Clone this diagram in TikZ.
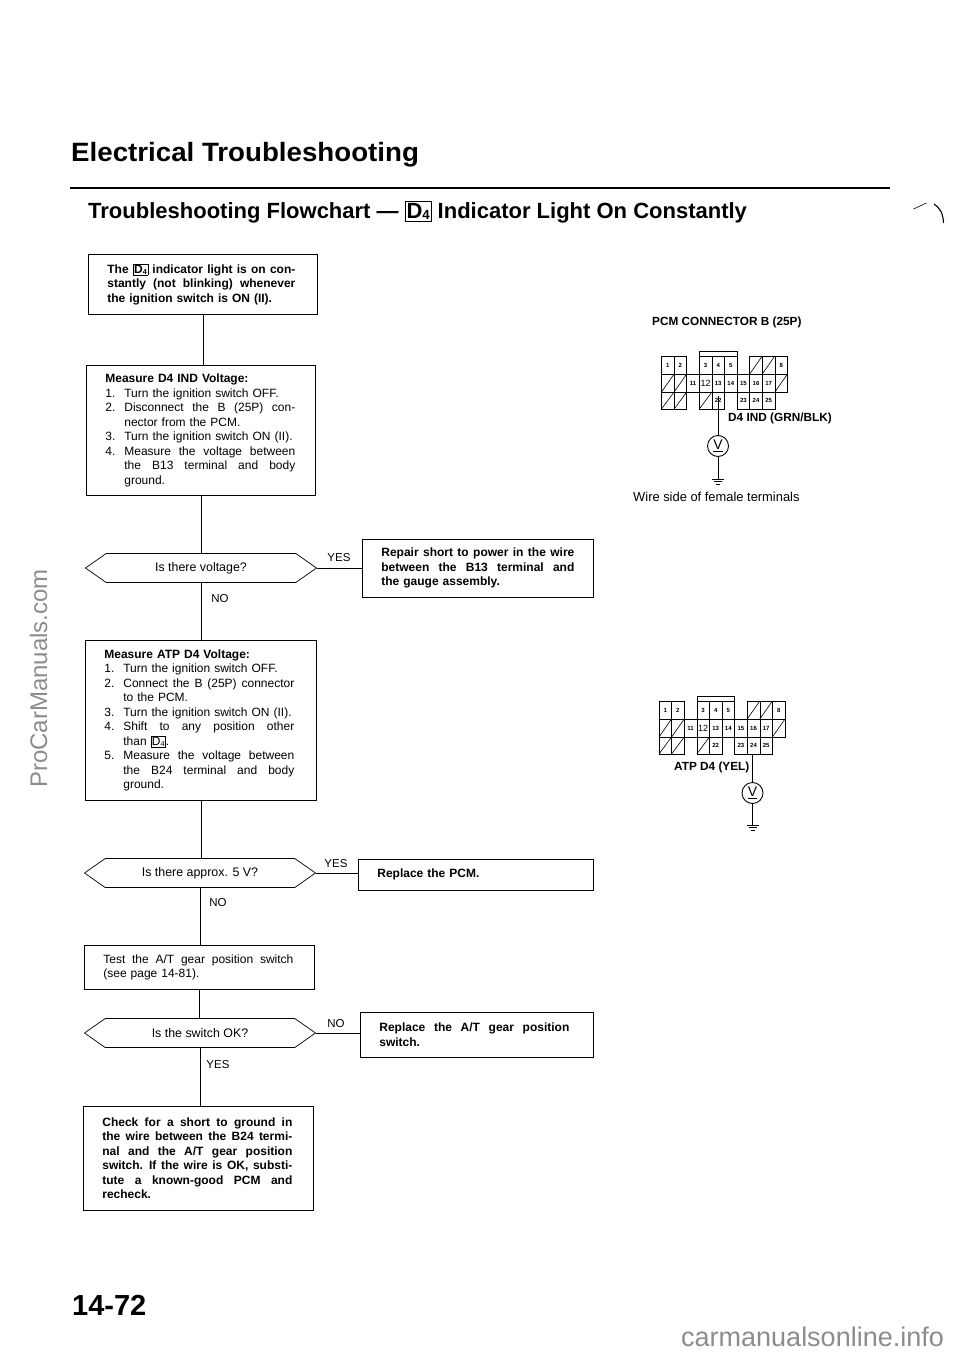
\documentclass[tikz,border=0pt]{standalone}
\usepackage{fontspec}
\setmainfont{Liberation Sans}
\usetikzlibrary{shapes.symbols,calc}
\newcommand{\dfour}{{\setlength{\fboxsep}{0.8pt}\setlength{\fboxrule}{0.5pt}\fbox{D\raisebox{-0.15ex}{\scalebox{0.6}{4}}}}}
\newcommand{\sprw}[2]{\makebox[#1][s]{\spaceskip=.278em plus 1em\relax #2}}
\newcommand{\spr}[1]{\sprw{190pt}{#1}}
\newcommand{\num}[1]{\makebox[19pt][l]{#1}}
\tikzset{
 x=1pt,y=-1pt,
 flow/.style={draw,line width=0.7pt,anchor=north west,align=left,inner xsep=19pt,inner ysep=0pt,font=\fontsize{12}{14.5}\selectfont},
 deci/.style={draw,line width=0.7pt,shape=signal,signal to=east and west,signal pointer angle=70,minimum width=231pt,minimum height=29pt,inner sep=0pt,font=\fontsize{12.4}{14}\selectfont},
 lbl/.style={font=\fontsize{11.5}{13}\selectfont,inner sep=0pt},
 wire/.style={line width=0.8pt},
 num/.style={inner sep=0pt,font=\fontsize{6}{6}\selectfont\bfseries},
 conlbl/.style={inner sep=0pt,anchor=west,font=\fontsize{11.8}{13}\selectfont\bfseries},
 vm/.style={draw,circle,line width=0.9pt,minimum size=21pt,inner sep=0pt,font=\fontsize{14}{14}\selectfont},
}
\newcommand{\connector}[2]{%
 \begin{scope}[shift={(#1,#2)},line width=0.6pt]
  \draw (38,0) -- (38,-5) -- (75.6,-5) -- (75.6,0);
  \foreach \c/\t in {0/1,1/2,3/3,4/4,5/5,9/8}{
   \draw (\c*12.6,0) rectangle +(12.6,18);
   \node[num] at (\c*12.6+6.3,9) {\t};}
  \foreach \c in {7,8}{
   \draw (\c*12.6,0) rectangle +(12.6,18);
   \draw (\c*12.6,18) -- +(12.6,-18);}
  \foreach \c/\t in {2/11,4/13,5/14,6/15,7/16,8/17}{
   \draw (\c*12.6,18) rectangle +(12.6,18);
   \node[num] at (\c*12.6+6.3,27) {\t};}
  \draw (3*12.6,18) rectangle +(12.6,18);
  \node[num,font=\fontsize{9}{9}\selectfont] at (3*12.6+6.3,27) {12};
  \foreach \c in {0,1,9}{
   \draw (\c*12.6,18) rectangle +(12.6,18);
   \draw (\c*12.6,36) -- +(12.6,-18);}
  \foreach \c in {0,1,3}{
   \draw (\c*12.6,36) rectangle +(12.6,17);
   \draw (\c*12.6,53) -- +(12.6,-17);}
  \foreach \c/\t in {4/22,6/23,7/24,8/25}{
   \draw (\c*12.6,36) rectangle +(12.6,17);
   \node[num] at (\c*12.6+6.3,44.5) {\t};}
 \end{scope}}
\newcommand{\gnd}[1]{%
 \draw[line width=0.7pt] ($(#1)+(-6,0)$) -- +(12,0);
 \draw[line width=0.7pt] ($(#1)+(-4,2.5)$) -- +(8,0);
 \draw[line width=0.7pt] ($(#1)+(-2,5)$) -- +(4,0);}
\begin{document}
\begin{tikzpicture}
\useasboundingbox (0,0) rectangle (960,1356);
% headings
\node[inner sep=0pt,anchor=west] (title) at (71,155) {\fontsize{26.5}{30}\selectfont\bfseries\scalebox{1.045}[1]{Electrical Troubleshooting}};
\coordinate (ruleA) at (70,188);
\coordinate (ruleB) at (890,188);
\draw[line width=1.8pt] (ruleA) -- (ruleB);
\node[inner sep=0pt,anchor=west] (sub) at (88,212) {\fontsize{22}{25}\selectfont\bfseries Troubleshooting Flowchart --- {\setlength{\fboxsep}{1.2pt}\setlength{\fboxrule}{0.6pt}\fbox{D\raisebox{-0.15ex}{\scalebox{0.6}{4}}}} Indicator Light On Constantly};
% flow
\node[flow,text width=191pt,minimum height=60pt] (b1) at (88,254) {\bfseries
 \sprw{188pt}{The \dfour{} indicator light is on con-}\\
 \sprw{188pt}{stantly (not blinking) whenever}\\
 the ignition switch is ON (II).};
\node[flow,text width=191pt,minimum height=130pt] (b2) at (86,365) {\textbf{Measure D4 IND Voltage:}\\
 \num{1.}Turn the ignition switch OFF.\\
 \spr{\num{2.}Disconnect the B (25P) con-}\\
 \num{}nector from the PCM.\\
 \num{3.}Turn the ignition switch ON (II).\\
 \spr{\num{4.}Measure the voltage between}\\
 \spr{\num{}the B13 terminal and body}\\
 \num{}ground.};
\node[deci] (d1) at (201,568) {Is there voltage?};
\node[flow,text width=193pt,minimum height=58pt] (b3) at (362,539) {\bfseries
 \sprw{193pt}{Repair short to power in the wire}\\
 \sprw{193pt}{between the B13 terminal and}\\
 the gauge assembly.};
\node[flow,text width=193pt,minimum height=160pt] (b4) at (85,640) {\textbf{Measure ATP D4 Voltage:}\\
 \num{1.}Turn the ignition switch OFF.\\
 \spr{\num{2.}Connect the B (25P) connector}\\
 \num{}to the PCM.\\
 \num{3.}Turn the ignition switch ON (II).\\
 \spr{\num{4.}Shift to any position other}\\
 \num{}than \dfour.\\
 \spr{\num{5.}Measure the voltage between}\\
 \spr{\num{}the B24 terminal and body}\\
 \num{}ground.};
\node[deci] (d2) at (200,873) {Is there approx. 5 V?};
\node[flow,text width=197pt,minimum height=31pt] (b5) at (358,859) {\textbf{Replace the PCM.}};
\node[flow,text width=192pt,minimum height=44pt] (b6) at (84,945) {\spr{Test the A/T gear position switch}\\ (see page 14-81).};
\node[deci] (d3) at (200,1033) {Is the switch OK?};
\node[flow,text width=195pt,minimum height=45pt] (b7) at (360,1012) {\bfseries
 \spr{Replace the A/T gear position}\\ switch.};
\node[flow,text width=192pt,minimum height=104pt] (b8) at (83,1106) {\bfseries
 \spr{Check for a short to ground in}\\
 \spr{the wire between the B24 termi-}\\
 \spr{nal and the A/T gear position}\\
 \spr{switch. If the wire is OK, substi-}\\
 \spr{tute a known-good PCM and}\\
 recheck.};
\foreach \a/\b in {b1/b2,b2/d1,d1/b4,b4/d2,d2/b6,b6/d3,d3/b8}{
 \draw[line width=0.7pt] (\a.south) -- (\a.south |- \b.north);}
\foreach \a/\b in {d1/b3,d2/b5,d3/b7}{
 \draw[line width=0.7pt] (\a.east) -- (\a.east -| \b.west);}
\node[lbl] (y1) at (339,558) {YES};
\node[lbl] (n1) at (220,599) {NO};
\node[lbl] (y2) at (336,864) {YES};
\node[lbl] (n2) at (218,903) {NO};
\node[lbl] (n3) at (336,1024) {NO};
\node[lbl] (y3) at (218,1065) {YES};
% connector 1
\node[conlbl] (pcm) at (652,322) {PCM CONNECTOR B (25P)};
\connector{661.5}{356}
\coordinate (t1) at (718,396);
\node[vm] (v1) at (718,446) {\underline{V}};
\coordinate (g1) at (718,479);
\draw[wire] (t1) -- (v1);
\draw[wire] (v1) -- (g1);
\gnd{g1}
\node[conlbl] (d4ind) at (728,418) {D4 IND (GRN/BLK)};
\node[inner sep=0pt,anchor=west,font=\fontsize{12.9}{14}\selectfont] (ws) at (633,497) {Wire side of female terminals};
% connector 2
\connector{659}{701}
\coordinate (t2) at (752.5,754);
\node[vm] (v2) at (752.5,793) {\underline{V}};
\coordinate (g2) at (752.5,825);
\draw[wire] (t2) -- (v2);
\draw[wire] (v2) -- (g2);
\gnd{g2}
\node[conlbl] (atp) at (674,767) {ATP D4 (YEL)};
% scan marks
\draw[line width=0.6pt] (913.5,209) -- (926.5,203);
\draw[line width=1.1pt] (934,204) .. controls (940,208) and (943,213) .. (943.5,223);
% page
\node[inner sep=0pt,anchor=west] (pg) at (72,1305) {\fontsize{29}{30}\selectfont\bfseries 14-72};
\node[inner sep=0pt,rotate=90,anchor=base,text=black!45,font=\fontsize{24}{26}\selectfont] (wm) at (47,678.5) {ProCarManuals.com};
\node[inner sep=0pt,anchor=base west,text=black!45,font=\fontsize{27}{28}\selectfont] (wm2) at (681,1346) {carmanualsonline.info};
\end{tikzpicture}
\end{document}
